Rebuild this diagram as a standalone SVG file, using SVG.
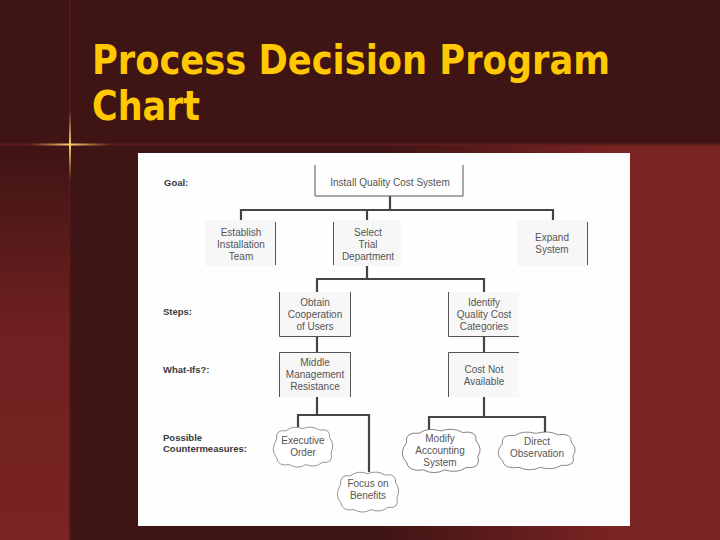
<svg xmlns="http://www.w3.org/2000/svg" width="720" height="540" viewBox="0 0 720 540">
<defs>
<linearGradient id="leftGrad" x1="0" y1="145" x2="0" y2="540" gradientUnits="userSpaceOnUse">
<stop offset="0" stop-color="#3f1414"/><stop offset="0.45" stop-color="#6e2020"/><stop offset="1" stop-color="#7a2424"/>
</linearGradient>
<linearGradient id="rightGrad" x1="380" y1="0" x2="610" y2="0" gradientUnits="userSpaceOnUse">
<stop offset="0" stop-color="#3f1414"/><stop offset="1" stop-color="#7a2323"/>
</linearGradient>
<linearGradient id="glowH" x1="30" y1="0" x2="110" y2="0" gradientUnits="userSpaceOnUse">
<stop offset="0" stop-color="#f0c060" stop-opacity="0"/><stop offset="0.5" stop-color="#ffd070"/><stop offset="1" stop-color="#f0c060" stop-opacity="0"/>
</linearGradient>
<linearGradient id="glowV" x1="0" y1="110" x2="0" y2="180" gradientUnits="userSpaceOnUse">
<stop offset="0" stop-color="#f0c060" stop-opacity="0"/><stop offset="0.5" stop-color="#ffd070"/><stop offset="1" stop-color="#f0c060" stop-opacity="0"/>
</linearGradient>
<path id="cloud" d="M10,20 Q8,6 25,8 Q35,0 50,5 Q65,0 76,7 Q93,4 92,18 Q100,28 94,38 Q98,54 80,52 Q70,60 55,55 Q42,62 30,55 Q12,58 10,45 Q0,35 10,20 Z"/>
</defs>
<style>
.title{font-family:"DejaVu Sans","Liberation Sans",sans-serif;font-weight:bold;font-size:40px;fill:#ffc800}
.lbl{font-family:"Liberation Sans",Arial,sans-serif;font-weight:bold;font-size:9.5px;fill:#3a3a3a}
.txt{font-family:"Liberation Sans",Arial,sans-serif;font-size:10px;fill:#555;text-anchor:middle}
.bx{fill:none;stroke:#555;stroke-width:1}
.bg{fill:#f7f7f7}
.conn{fill:none;stroke:#444;stroke-width:2.2}
.cl{fill:#fff;stroke:#555;stroke-width:0.9;vector-effect:non-scaling-stroke}
</style>
<g id="background">
<rect width="720" height="540" fill="#3f1414"/>
<rect x="0" y="145" width="70" height="395" fill="url(#leftGrad)"/>
<rect x="70" y="145" width="650" height="395" fill="url(#rightGrad)"/>
<line x1="0" y1="144.5" x2="720" y2="144.5" stroke="#5e1c1c" stroke-width="2"/>
<line x1="70" y1="0" x2="70" y2="540" stroke="#561919" stroke-width="1.5"/>
<line x1="30" y1="144.5" x2="110" y2="144.5" stroke="url(#glowH)" stroke-width="2"/>
<line x1="70" y1="110" x2="70" y2="180" stroke="url(#glowV)" stroke-width="2"/>
<rect x="138" y="153" width="492" height="373" fill="#fefefe"/>
</g>
<g id="title">
<text class="title" x="92" y="74" textLength="518" lengthAdjust="spacingAndGlyphs">Process Decision Program</text>
<text class="title" x="92" y="120" textLength="108" lengthAdjust="spacingAndGlyphs">Chart</text>
</g>
<g id="row-labels">
<text class="lbl" x="164" y="186">Goal:</text>
<text class="lbl" x="163" y="315">Steps:</text>
<text class="lbl" x="163" y="373">What-Ifs?:</text>
<text class="lbl" x="163" y="441">Possible</text>
<text class="lbl" x="163" y="452">Countermeasures:</text>
</g>
<g id="connectors">
<path class="conn" d="M390,196 V210 M241,221 V210 H553 V221 M367,210 V221"/>
<path class="conn" d="M367,265 V279 M317,292 V279 H484 V292"/>
<path class="conn" d="M317,336 V352 M484,336 V352"/>
<path class="conn" d="M317,397 V415 M298,427 V415 H369 V472"/>
<path class="conn" d="M484,397 V417 M429,430 V417 H545 V433"/>
</g>
<g id="goal">
<path class="bx" d="M315,165 V196 H463 V165"/>
<text class="txt" x="390" y="186">Install Quality Cost System</text>
</g>
<g id="establish">
<rect class="bg" x="205" y="220" width="70" height="46"/>
<path class="bx" d="M275.5,222 V265"/>
<text class="txt" x="241" y="236">Establish</text>
<text class="txt" x="241" y="248">Installation</text>
<text class="txt" x="241" y="260">Team</text>
</g>
<g id="select">
<rect class="bg" x="333" y="220" width="68" height="46"/>
<path class="bx" d="M333.5,222 V265"/>
<text class="txt" x="368" y="236">Select</text>
<text class="txt" x="368" y="248">Trial</text>
<text class="txt" x="368" y="260">Department</text>
</g>
<g id="expand">
<rect class="bg" x="517" y="220" width="71" height="46"/>
<path class="bx" d="M587.5,222 V265"/>
<text class="txt" x="552" y="241">Expand</text>
<text class="txt" x="552" y="253">System</text>
</g>
<g id="obtain">
<rect class="bg" x="280" y="292" width="70" height="44"/>
<path class="bx" d="M279.5,292 V336.5 H350.5 V292"/>
<text class="txt" x="315" y="306">Obtain</text>
<text class="txt" x="315" y="318">Cooperation</text>
<text class="txt" x="315" y="330">of Users</text>
</g>
<g id="identify">
<rect class="bg" x="448" y="292" width="71" height="44"/>
<path class="bx" d="M448.5,292 V336.5 H519"/>
<text class="txt" x="484" y="306">Identify</text>
<text class="txt" x="484" y="318">Quality Cost</text>
<text class="txt" x="484" y="330">Categories</text>
</g>
<g id="middle">
<rect class="bg" x="280" y="352" width="70" height="45"/>
<path class="bx" d="M279.5,397 V352.5 H350.5 V397"/>
<text class="txt" x="315" y="366">Middle</text>
<text class="txt" x="315" y="378">Management</text>
<text class="txt" x="315" y="390">Resistance</text>
</g>
<g id="costnot">
<rect class="bg" x="448" y="352" width="71" height="45"/>
<path class="bx" d="M448.5,397 V352.5 H519"/>
<text class="txt" x="484" y="373">Cost Not</text>
<text class="txt" x="484" y="385">Available</text>
</g>
<g id="executive">
<use href="#cloud" class="cl" transform="translate(270,425) scale(0.65,0.72)"/>
<text class="txt" x="303" y="444">Executive</text>
<text class="txt" x="303" y="456">Order</text>
</g>
<g id="focus">
<use href="#cloud" class="cl" transform="translate(334,470) scale(0.67,0.72)"/>
<text class="txt" x="368" y="487">Focus on</text>
<text class="txt" x="368" y="499">Benefits</text>
</g>
<g id="modify">
<use href="#cloud" class="cl" transform="translate(398,427) scale(0.85,0.78)"/>
<text class="txt" x="440" y="442">Modify</text>
<text class="txt" x="440" y="454">Accounting</text>
<text class="txt" x="440" y="466">System</text>
</g>
<g id="direct">
<use href="#cloud" class="cl" transform="translate(494,430) scale(0.84,0.68)"/>
<text class="txt" x="537" y="445">Direct</text>
<text class="txt" x="537" y="457">Observation</text>
</g>
</svg>
